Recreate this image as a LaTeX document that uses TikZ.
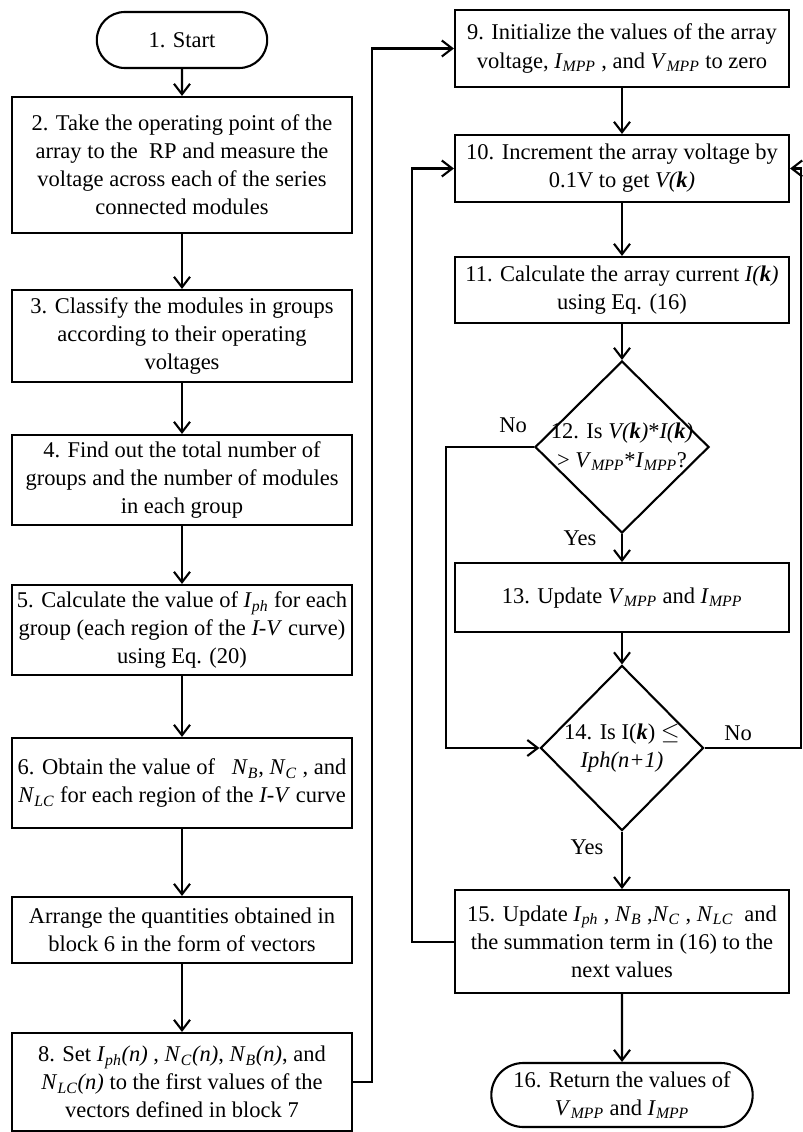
\documentclass[tikz,border=0pt]{standalone}
\usepackage{fontspec}
\setmainfont{Liberation Serif}
\usetikzlibrary{shapes.geometric,shapes.misc,arrows.meta}
\newcommand{\vsub}[2]{\textit{#1}\textsubscript{\textit{#2}}}
\begin{document}
\begin{tikzpicture}[line width=1.5pt, >={Straight Barb[length=2.6mm,width=4mm]}, every node/.style={font=\fontsize{16}{20}\selectfont}]
		\tikzstyle{block}=[rectangle,draw,align=center,minimum width=8.5cm,inner sep=2pt]
		\tikzstyle{rblock}=[block,minimum width=8.35cm]
		\tikzstyle{term}=[rounded rectangle,draw,align=center,inner sep=2pt]
		\tikzstyle{decision}=[diamond,draw,inner sep=0pt]
		\useasboundingbox (0,0) rectangle (20.05,-28.3);
		% left column
		\node[term,minimum width=4.4cm,minimum height=1.4cm](start)at(4.55,-1.0){1. Start};
		\node[block,minimum height=3.4cm](b2)at(4.55,-4.125){2. Take the operating point of the\\array to the\ \ RP and measure the\\voltage across each of the series\\connected modules};
		\node[block,minimum height=2.3cm](b3)at(4.55,-8.4){3. Classify the modules in groups\\according to their operating\\voltages};
		\node[block,minimum height=2.25cm](b4)at(4.55,-12.0){4. Find out the total number of\\groups and the number of modules\\in each group};
		\node[block,minimum height=2.25cm](b5)at(4.55,-15.75){5. Calculate the value of \vsub{I}{ph} for each\\group (each region of the \textit{I-V} curve)\\using Eq. (20)};
		\node[block,minimum height=2.25cm](b6)at(4.55,-19.575){6. Obtain the value of \ \ \vsub{N}{B}, \vsub{N}{C} , and\\\vsub{N}{LC} for each region of the \textit{I-V} curve};
		\node[block,minimum height=1.65cm](b7)at(4.55,-23.25){Arrange the quantities obtained in\\block 6 in the form of vectors};
		\node[block,minimum height=2.45cm](b8)at(4.55,-27.05){8. Set \vsub{I}{ph}\textit{(n)} , \vsub{N}{C}\textit{(n)}, \vsub{N}{B}\textit{(n)}, and\\\vsub{N}{LC}\textit{(n)} to the first values of the\\vectors defined in block 7};
		% right column
		\node[rblock,minimum height=1.925cm](b9)at(15.55,-1.2125){9. Initialize the values of the array\\voltage, \vsub{I}{MPP} , and \vsub{V}{MPP} to zero};
		\node[rblock,minimum height=1.675cm](b10)at(15.55,-4.2125){10. Increment the array voltage by\\0.1V to get \textit{V(\textbf{k})}};
		\node[rblock,minimum height=1.65cm](b11)at(15.55,-7.25){11. Calculate the array current \textit{I(\textbf{k})}\\using Eq. (16)};
		\node[decision,minimum width=4.35cm,minimum height=4.3cm](d12)at(15.55,-11.175){};
		\node[align=center](q12)at(d12){12. Is \textit{V(\textbf{k})}*\textit{I(\textbf{k})}\\> \vsub{V}{MPP}*\vsub{I}{MPP}?};
		\node[rblock,minimum height=1.725cm](b13)at(15.55,-14.94){13. Update \vsub{V}{MPP} and \vsub{I}{MPP}};
		\node[decision,minimum width=4.075cm,minimum height=4.125cm](d14)at(15.55,-18.7){};
		\node[align=center](q14)at(d14){14. Is I(\textit{\textbf{k}}) $\leq$\\\textit{Iph(n+1)}};
		\node[rblock,minimum height=2.575cm](b15)at(15.55,-23.54){15. Update \vsub{I}{ph} , \vsub{N}{B} ,\vsub{N}{C} , \vsub{N}{LC}\ \ and\\the summation term in (16) to the\\next values};
		\node[term,minimum width=6.675cm,minimum height=1.6cm](t16)at(15.55,-27.375){16. Return the values of\\\vsub{V}{MPP} and \vsub{I}{MPP}};
		% branch labels
		\node(no12)at(12.825,-10.625){No};
		\node(yes12)at(14.5,-13.45){Yes};
		\node(no14)at(18.45,-18.325){No};
		\node(yes14)at(14.675,-21.175){Yes};
		% arrows
		\path[->] (start) edge (b2) (b2) edge (b3) (b3) edge (b4) (b4) edge (b5)
			(b5) edge (b6) (b6) edge (b7) (b7) edge (b8);
		\path[->] (b9) edge (b10) (b10) edge (b11) (b11) edge (d12) (d12) edge (b13)
			(b13) edge (d14) (d14) edge (b15) (b15) edge (t16);
		\draw[->]{
			(b8.east) -- ++(0.475,0) |- (b9.west)
		};
		\draw[->]{
			(b15.west) -- ++(-1.05,0) |- (b10.west)
		};
		\draw[->]{
			(d12.west) -- ++(-2.2,0) |- (d14.west)
		};
		\draw[->]{
			(d14.east) -- ++(2.4,0) |- (b10.east)
		};
\end{tikzpicture}
\end{document}
